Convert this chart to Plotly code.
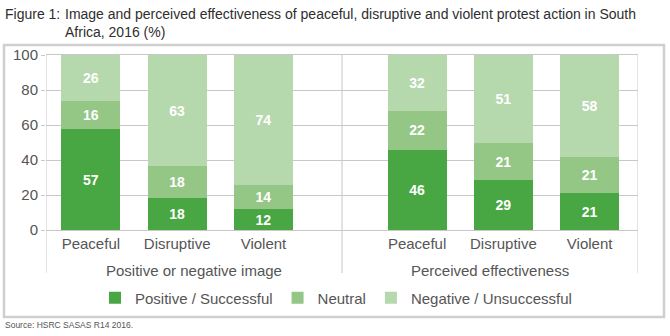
import plotly.graph_objects as go

# ---- data ----
groups = ["Positive or negative image", "Perceived effectiveness"]
categories = ["Peaceful", "Disruptive", "Violent"]
series_names = ["Positive / Successful", "Neutral", "Negative / Unsuccessful"]
positive = [57, 18, 12, 46, 29, 21]
neutral = [16, 18, 14, 22, 21, 21]
negative = [26, 63, 74, 32, 51, 58]
y_ticks = [0, 20, 40, 60, 80, 100]

# ---- layout helpers ----
W, H = 670, 336
PL, PR, PT, PB = 46, 638, 55, 230  # plot area in px
colors = ["#48A743", "#94C686", "#B6D8AD"]
x_pos = [0, 1, 2, 3.78, 4.78, 5.78]
x_range = [-0.52, 6.34]
divider = 2.91
bar_w = 0.684


def px_x(p):
    return (p - PL) / (PR - PL)


def px_y(p):
    return (PB - p) / (PB - PT)


fig = go.Figure()
for name, vals, col in zip(series_names, [positive, neutral, negative], colors):
    fig.add_trace(go.Bar(
        x=x_pos, y=vals, name=name, marker=dict(color=col, line=dict(width=0)),
        width=bar_w, text=[str(v) for v in vals], textposition="inside",
        insidetextanchor="middle", textangle=0, constraintext="none",
        textfont=dict(family="Liberation Sans", size=14, color="white", weight="bold"),
        hoverinfo="skip",
    ))

grid = "#C8C8C8"
txt = "#555555"
title_font = dict(family="Liberation Sans", size=14, color="#2E2E2E")
shapes = []
# vertical dividers extending into label area
for xv in [x_range[0], divider, x_range[1]]:
    shapes.append(dict(type="line", xref="x", yref="paper", x0=xv, x1=xv,
                       y0=px_y(273), y1=1, line=dict(color=grid, width=1)))
# outer border
shapes.append(dict(type="rect", xref="paper", yref="paper",
                   x0=px_x(4), x1=px_x(664), y0=px_y(317), y1=px_y(45),
                   line=dict(color="#CFCFCF", width=2.5), layer="below"))

annotations = [
    dict(text="Figure 1:", xref="paper", yref="paper", x=px_x(3), y=px_y(4),
         xanchor="left", yanchor="top", showarrow=False, align="left",
         font=title_font),
    dict(text="Image and perceived effectiveness of peaceful, disruptive and violent protest action in South<br>Africa, 2016 (%)",
         xref="paper", yref="paper", x=px_x(63), y=px_y(4),
         xanchor="left", yanchor="top", showarrow=False, align="left",
         font=title_font),
    dict(text="Source: HSRC SASAS R14 2016.", xref="paper", yref="paper",
         x=px_x(3), y=px_y(325), xanchor="left", yanchor="middle", showarrow=False,
         font=dict(family="Liberation Sans", size=8.5, color="#555555")),
]
for g, cx in zip(groups, [(x_range[0] + divider) / 2, (divider + x_range[1]) / 2]):
    annotations.append(dict(text=g, xref="x", yref="paper", x=cx, y=px_y(270),
                            xanchor="center", yanchor="middle", showarrow=False,
                            font=dict(family="Liberation Sans", size=15, color=txt)))

fig.update_layout(
    width=W, height=H,
    margin=dict(l=PL, r=W - PR, t=PT, b=H - PB, pad=0),
    barmode="stack", barnorm="percent",
    paper_bgcolor="white", plot_bgcolor="white",
    xaxis=dict(range=x_range, tickvals=x_pos, ticktext=categories * 2,
               showgrid=False, zeroline=False, showline=True, mirror=True,
               linecolor=grid, linewidth=1, ticks="",
               tickfont=dict(family="Liberation Sans", size=15, color=txt)),
    yaxis=dict(range=[0, 100], tickvals=y_ticks, showgrid=True, gridcolor=grid,
               gridwidth=1, zeroline=False, showline=False, ticks="outside",
               ticklen=4, tickcolor=grid,
               tickfont=dict(family="Liberation Sans", size=15, color=txt)),
    legend=dict(orientation="h", x=0.5 - 6 / (PR - PL), xanchor="center", y=px_y(298),
                yanchor="middle", traceorder="normal",
                font=dict(family="Liberation Sans", size=15, color=txt),
                itemwidth=30),
    shapes=shapes, annotations=annotations, showlegend=True,
)

fig.write_html("out.html", config={"displayModeBar": False},
               post_script="document.body.style.margin='0';")
